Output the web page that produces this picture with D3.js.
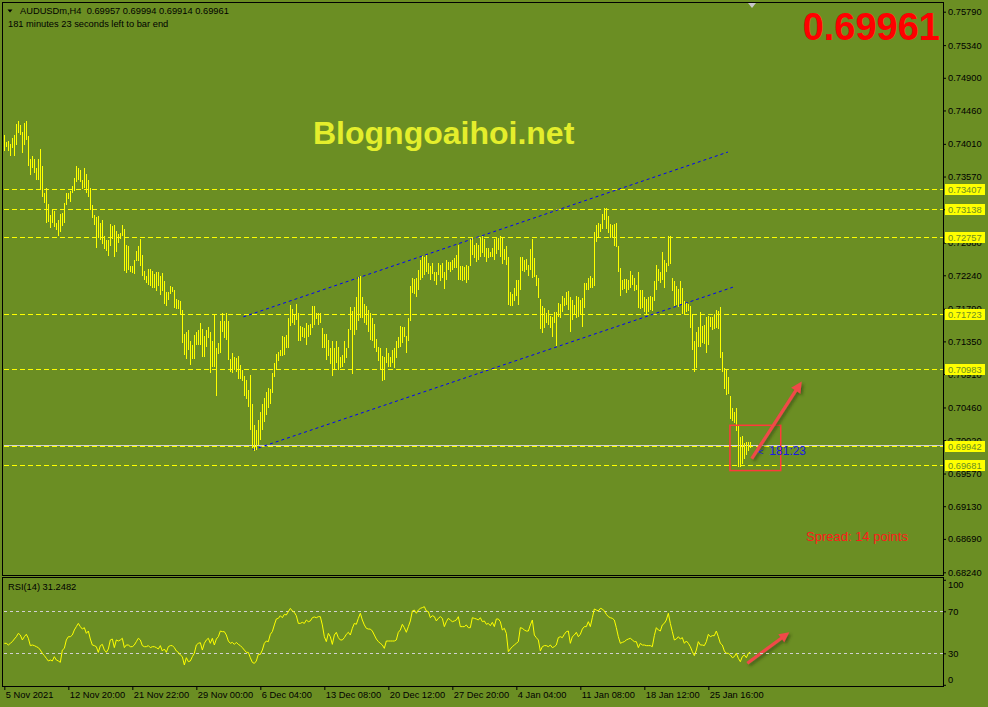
<!DOCTYPE html>
<html><head><meta charset="utf-8">
<script src="https://cdn.jsdelivr.net/npm/d3@7"></script>
<style>
html,body{margin:0;padding:0;background:#6B8E23;}
svg{display:block;}
text{font-family:"Liberation Sans",Arial,sans-serif;}
</style></head><body>
<svg id="chart" width="988" height="707"></svg>
<script>
// ---------- DATA ----------
const symbolTitle = "AUDUSDm,H4  0.69957 0.69994 0.69914 0.69961";
const timerText = "181 minutes 23 seconds left to bar end";
const lastPriceText = "0.69961";
const watermark = "Blogngoaihoi.net";
const spreadText = "Spread: 14 points";
const countdownText = "181:23";
const rsiTitle = "RSI(14) 31.2482";

const highs = [
0.7413,0.7404,0.7405,0.7401,0.7409,0.7413,0.7428,0.7432,0.7427,0.7417,
0.7429,0.7432,0.7412,0.7380,0.7384,0.7380,0.7369,0.7380,0.7394,0.7371,
0.7335,0.7342,0.7320,0.7305,0.7312,0.7310,0.7295,0.7298,0.7307,0.7308,
0.7322,0.7335,0.7335,0.7337,0.7344,0.7355,0.7371,0.7369,0.7366,0.7352,
0.7369,0.7361,0.7352,0.7342,0.7319,0.7305,0.7303,0.7304,0.7295,0.7299,
0.7277,0.7271,0.7272,0.7293,0.7291,0.7292,0.7284,0.7280,0.7281,0.7292,
0.7287,0.7265,0.7263,0.7237,0.7236,0.7244,0.7257,0.7264,0.7273,0.7252,
0.7230,0.7223,0.7233,0.7233,0.7230,0.7226,0.7229,0.7228,0.7223,0.7227,
0.7216,0.7202,0.7201,0.7210,0.7208,0.7204,0.7192,0.7191,0.7190,0.7177,
0.7145,0.7148,0.7150,0.7135,0.7130,0.7144,0.7147,0.7150,0.7160,0.7151,
0.7142,0.7150,0.7154,0.7148,0.7136,0.7171,0.7126,0.7133,0.7162,0.7173,
0.7163,0.7173,0.7162,0.7111,0.7120,0.7114,0.7112,0.7115,0.7103,0.7097,
0.7088,0.7083,0.7069,0.7090,0.7050,0.7022,0.7016,0.7029,0.7040,0.7050,
0.7059,0.7067,0.7072,0.7071,0.7093,0.7106,0.7118,0.7121,0.7123,0.7142,
0.7141,0.7144,0.7166,0.7184,0.7178,0.7171,0.7186,0.7173,0.7156,0.7154,
0.7153,0.7160,0.7157,0.7159,0.7182,0.7183,0.7173,0.7173,0.7173,0.7153,
0.7145,0.7145,0.7137,0.7126,0.7135,0.7126,0.7136,0.7128,0.7114,0.7117,
0.7136,0.7126,0.7151,0.7181,0.7176,0.7181,0.7195,0.7222,0.7223,0.7195,
0.7186,0.7182,0.7177,0.7173,0.7166,0.7159,0.7138,0.7128,0.7126,0.7115,
0.7114,0.7126,0.7119,0.7114,0.7123,0.7126,0.7136,0.7141,0.7156,0.7155,
0.7155,0.7142,0.7166,0.7209,0.7221,0.7219,0.7220,0.7231,0.7245,0.7250,
0.7249,0.7252,0.7240,0.7237,0.7240,0.7229,0.7228,0.7240,0.7238,0.7240,
0.7229,0.7244,0.7242,0.7242,0.7245,0.7247,0.7252,0.7265,0.7236,0.7237,
0.7235,0.7238,0.7236,0.7273,0.7274,0.7265,0.7267,0.7265,0.7276,0.7277,
0.7273,0.7261,0.7261,0.7256,0.7261,0.7273,0.7276,0.7274,0.7277,0.7276,
0.7259,0.7264,0.7248,0.7201,0.7199,0.7207,0.7217,0.7217,0.7249,0.7248,
0.7244,0.7246,0.7238,0.7259,0.7273,0.7247,0.7225,0.7220,0.7192,0.7182,
0.7180,0.7173,0.7177,0.7169,0.7168,0.7174,0.7175,0.7187,0.7186,0.7196,
0.7193,0.7202,0.7203,0.7195,0.7191,0.7184,0.7196,0.7195,0.7191,0.7193,
0.7213,0.7213,0.7220,0.7223,0.7221,0.7282,0.7292,0.7294,0.7293,0.7307,
0.7314,0.7314,0.7304,0.7293,0.7292,0.7293,0.7294,0.7264,0.7234,0.7218,
0.7219,0.7219,0.7218,0.7230,0.7225,0.7220,0.7211,0.7229,0.7204,0.7204,
0.7195,0.7192,0.7195,0.7196,0.7195,0.7216,0.7238,0.7232,0.7228,0.7256,
0.7244,0.7241,0.7277,0.7277,0.7220,0.7216,0.7209,0.7205,0.7216,0.7207,
0.7189,0.7187,0.7186,0.7183,0.7171,0.7135,0.7148,0.7154,0.7175,0.7156,
0.7157,0.7168,0.7169,0.7168,0.7168,0.7172,0.7177,0.7176,0.7181,0.7121,
0.7099,0.7097,0.7087,0.7061,0.7045,0.7040,0.7045,0.7023,0.7006,0.7008,
0.6998,0.6999,0.6999,0.69994
];
const lows = [
0.7392,0.7397,0.7392,0.7385,0.7396,0.7384,0.7400,0.7416,0.7413,0.7389,
0.7400,0.7406,0.7371,0.7359,0.7369,0.7362,0.7352,0.7352,0.7339,0.7330,
0.7322,0.7295,0.7296,0.7288,0.7295,0.7289,0.7285,0.7277,0.7282,0.7290,
0.7295,0.7318,0.7327,0.7323,0.7335,0.7338,0.7349,0.7352,0.7349,0.7340,
0.7342,0.7335,0.7330,0.7312,0.7301,0.7292,0.7261,0.7274,0.7272,0.7266,
0.7260,0.7257,0.7250,0.7264,0.7273,0.7249,0.7255,0.7268,0.7273,0.7277,
0.7230,0.7227,0.7231,0.7228,0.7227,0.7226,0.7243,0.7243,0.7237,0.7223,
0.7218,0.7214,0.7211,0.7209,0.7207,0.7207,0.7203,0.7209,0.7198,0.7203,
0.7186,0.7183,0.7191,0.7199,0.7201,0.7180,0.7178,0.7178,0.7172,0.7133,
0.7117,0.7111,0.7123,0.7103,0.7111,0.7111,0.7130,0.7130,0.7130,0.7114,
0.7114,0.7127,0.7139,0.7092,0.7101,0.7100,0.7062,0.7118,0.7120,0.7147,
0.7139,0.7137,0.7110,0.7094,0.7093,0.7097,0.7094,0.7084,0.7084,0.7082,
0.7062,0.7058,0.7047,0.7016,0.6992,0.6988,0.6989,0.6996,0.7002,0.7016,
0.7027,0.7036,0.7045,0.7051,0.7066,0.7087,0.7097,0.7108,0.7115,0.7115,
0.7117,0.7126,0.7126,0.7156,0.7160,0.7157,0.7164,0.7135,0.7135,0.7141,
0.7139,0.7130,0.7141,0.7144,0.7153,0.7157,0.7165,0.7157,0.7160,0.7126,
0.7126,0.7110,0.7115,0.7105,0.7089,0.7097,0.7106,0.7097,0.7099,0.7101,
0.7106,0.7112,0.7126,0.7150,0.7091,0.7144,0.7150,0.7162,0.7166,0.7166,
0.7160,0.7157,0.7148,0.7137,0.7135,0.7126,0.7121,0.7108,0.7097,0.7081,
0.7083,0.7106,0.7101,0.7101,0.7106,0.7099,0.7112,0.7126,0.7128,0.7133,
0.7141,0.7119,0.7135,0.7162,0.7200,0.7199,0.7195,0.7204,0.7218,0.7221,
0.7225,0.7229,0.7226,0.7218,0.7226,0.7216,0.7211,0.7225,0.7216,0.7221,
0.7205,0.7218,0.7231,0.7229,0.7231,0.7234,0.7234,0.7218,0.7217,0.7216,
0.7217,0.7214,0.7218,0.7237,0.7252,0.7247,0.7242,0.7244,0.7249,0.7254,
0.7249,0.7242,0.7247,0.7249,0.7249,0.7245,0.7253,0.7258,0.7249,0.7239,
0.7245,0.7238,0.7184,0.7183,0.7183,0.7190,0.7196,0.7184,0.7204,0.7230,
0.7229,0.7231,0.7223,0.7231,0.7220,0.7222,0.7209,0.7193,0.7151,0.7146,
0.7153,0.7160,0.7157,0.7153,0.7141,0.7160,0.7129,0.7168,0.7166,0.7175,
0.7182,0.7184,0.7177,0.7148,0.7164,0.7171,0.7166,0.7168,0.7172,0.7154,
0.7180,0.7204,0.7204,0.7207,0.7207,0.7210,0.7269,0.7276,0.7282,0.7286,
0.7298,0.7287,0.7281,0.7274,0.7275,0.7264,0.7262,0.7229,0.7196,0.7204,
0.7205,0.7200,0.7204,0.7207,0.7211,0.7203,0.7204,0.7180,0.7178,0.7180,
0.7175,0.7171,0.7175,0.7177,0.7176,0.7189,0.7204,0.7216,0.7214,0.7218,
0.7207,0.7229,0.7237,0.7239,0.7203,0.7182,0.7184,0.7181,0.7186,0.7172,
0.7171,0.7174,0.7176,0.7153,0.7124,0.7094,0.7099,0.7128,0.7128,0.7133,
0.7132,0.7120,0.7130,0.7154,0.7150,0.7151,0.7153,0.7151,0.7112,0.7094,
0.7071,0.7063,0.7064,0.7030,0.7028,0.7025,0.7014,0.6966,0.6966,0.6970,
0.6976,0.6982,0.6988,0.69914
];
const rsi = [
39.5,39.5,37.9,39.5,41.1,43.6,45.8,49.0,47.4,42.7,
45.8,48.1,44.3,37.3,37.9,37.3,36.3,35.4,33.1,30.0,
27.8,25.2,22.7,23.6,22.7,26.8,23.6,22.7,21.4,33.1,
34.7,42.7,45.8,45.8,47.4,52.2,55.4,58.5,55.4,53.1,
54.4,49.0,51.2,43.6,37.9,37.3,36.3,30.9,37.3,38.5,
33.1,30.9,34.1,42.7,43.6,35.4,42.7,41.7,42.7,44.3,
35.4,37.9,37.9,36.3,36.3,37.9,41.1,44.3,42.7,37.3,
36.3,36.3,37.3,35.4,36.3,36.3,35.4,34.1,37.3,32.2,
34.1,30.9,36.3,37.3,37.3,35.4,32.2,30.9,28.4,26.8,
18.9,25.8,22.0,22.7,26.8,30.0,37.9,39.5,40.1,33.1,
39.5,42.7,44.3,39.5,44.3,37.9,43.6,45.8,51.2,50.6,
50.6,47.4,41.7,39.5,40.4,38.5,40.4,38.5,37.3,35.4,
33.1,30.9,30.9,25.8,21.4,20.4,22.7,29.0,29.0,33.1,
39.5,41.7,41.1,48.1,50.6,57.0,62.7,63.3,65.8,63.9,
67.1,66.5,69.7,72.8,70.3,69.0,65.8,58.5,58.5,59.5,
58.5,61.7,60.1,60.8,63.9,64.6,63.9,64.9,
64.9,57.0,45.8,41.1,49.0,45.8,38.5,47.4,50.0,44.9,
42.7,42.7,44.9,48.1,50.0,47.4,53.8,58.5,57.6,63.3,
68.1,61.7,57.0,53.8,53.1,53.1,51.2,47.4,43.6,41.1,
39.5,37.9,34.7,41.7,41.7,41.7,41.7,41.7,42.7,50.0,
52.2,57.6,54.4,50.0,55.4,60.8,70.3,71.2,68.1,71.2,
72.8,73.5,74.4,70.3,69.7,63.9,65.8,64.9,60.8,63.3,
64.9,63.3,55.4,60.1,63.3,61.7,60.1,60.8,61.7,64.9,
55.4,55.4,55.4,57.0,54.4,54.4,63.9,63.3,62.7,61.7,
63.9,60.1,60.8,57.6,58.5,56.3,59.5,55.4,62.7,62.7,
60.1,52.2,53.8,49.0,31.6,34.1,36.3,37.9,39.5,41.1,
54.4,53.8,52.2,51.2,51.2,57.0,61.7,47.4,44.9,42.7,
32.2,36.3,37.3,37.3,36.3,37.9,35.4,36.3,37.9,44.9,
45.8,44.9,48.1,50.6,51.2,39.5,45.8,47.4,50.0,45.8,
48.1,53.1,55.4,55.4,60.1,55.4,63.9,72.2,71.2,70.3,
72.8,72.2,70.3,67.1,64.9,63.9,63.3,61.7,54.4,45.8,
39.5,40.4,41.1,42.7,43.6,44.3,42.7,41.1,41.1,35.4,
39.5,37.9,37.9,37.3,37.3,
37.3,36.3,46.8,54.4,52.2,51.2,57.0,58.5,61.7,68.1,
58.5,50.6,42.7,43.6,45.8,43.6,44.9,39.5,41.7,39.5,
36.3,31.6,27.8,33.1,41.1,37.9,37.9,37.3,41.1,48.1,
45.8,46.8,46.8,51.2,45.8,39.5,37.9,32.2,30.0,30.0,
28.4,25.8,26.8,30.0,25.2,22.0,26.8,28.4,25.8,30.0,31.2482
];
const timeTickBars = [0,32,64,96,128,160,192,224,256,288,320,352];
const timeLabels = ["5 Nov 2021","12 Nov 20:00","21 Nov 22:00","29 Nov 00:00","6 Dec 04:00","13 Dec 08:00","20 Dec 12:00","27 Dec 20:00","4 Jan 04:00","11 Jan 08:00","18 Jan 12:00","25 Jan 16:00"];
const priceTicks = [0.75790,0.75340,0.74900,0.74460,0.74010,0.73570,0.73130,0.72680,0.72240,0.71790,0.71350,0.70910,0.70460,0.70020,0.69570,0.69130,0.68690,0.68240];
const levelPrices = [0.73407,0.73138,0.72757,0.71723,0.70983,0.69942,0.69681];
const bidPrice = 0.69961;
const rsiLevels = [70,30];
const rsiTicks = [100,70,30,0];
// trend channel anchors: [bar index, price]
const channelUpper = [[119.5,0.7168],[361.8,0.7390]];
const channelLower = [[124.3,0.6989],[364.3,0.7208]];
// annotations: [bar index, value]
const markBox = [[362.8,0.7022],[388.2,0.6961]];
const arrowMain = [[373.7,0.6977],[398.7,0.7081]];
const arrowRsi = [[371.5,20.5],[392.5,50.0]];
const countdownAt = [377.0,0.6988];

// ---------- LAYOUT ----------
const W = 988, H = 707;
const paneL = 3, paneR = 943, mainT = 3, mainB = 575, rsiT = 577, rsiB = 686;
const BG = "#6B8E23";
const svg = d3.select("#chart");
svg.append("rect").attr("width",W).attr("height",H).attr("fill",BG);

const defs = svg.append("defs");
defs.append("clipPath").attr("id","clipMain").append("rect")
  .attr("x",paneL+1).attr("y",mainT+1).attr("width",paneR-paneL-1).attr("height",mainB-mainT-1);
defs.append("clipPath").attr("id","clipRsi").append("rect")
  .attr("x",paneL+1).attr("y",rsiT+1).attr("width",paneR-paneL-1).attr("height",rsiB-rsiT-1);
const sh = defs.append("filter").attr("id","shadow").attr("x","-30%").attr("y","-30%").attr("width","160%").attr("height","160%");
sh.append("feDropShadow").attr("dx",2).attr("dy",2).attr("stdDeviation",1.5).attr("flood-color","#2a3a08").attr("flood-opacity",0.6);

const x = d3.scaleLinear().domain([0,373]).range([4.33,750.33]);
const y = d3.scaleLinear().domain([0.6824,0.7579]).range([572.3,11.7]);
const yR = d3.scaleLinear().domain([0,100]).range([684.8,579.8]);
const px = v => Math.floor(x(v)) + 0.5;

// ---------- MAIN PANE ----------
const gMain = svg.append("g").attr("clip-path","url(#clipMain)");

gMain.selectAll("line.level").data(levelPrices).join("line")
  .attr("x1",paneL+1).attr("x2",paneR)
  .attr("y1",d=>Math.round(y(d))+0.5).attr("y2",d=>Math.round(y(d))+0.5)
  .attr("stroke","#FFFF00").attr("stroke-width",1).attr("stroke-dasharray","5,3");

gMain.append("line").attr("x1",paneL+1).attr("x2",paneR)
  .attr("y1",Math.round(y(bidPrice))+0.5).attr("y2",Math.round(y(bidPrice))+0.5)
  .attr("stroke","#D0D0D0").attr("stroke-width",1);

[channelUpper, channelLower].forEach(c=>{
  gMain.append("line")
    .attr("x1",x(c[0][0])).attr("y1",y(c[0][1]))
    .attr("x2",x(c[1][0])).attr("y2",y(c[1][1]))
    .attr("stroke","#0000FF").attr("stroke-width",1).attr("stroke-dasharray","3,3");
});

gMain.selectAll("line.bar").data(highs).join("line")
  .attr("class","bar")
  .attr("x1",(d,i)=>px(i)).attr("x2",(d,i)=>px(i))
  .attr("y1",(d,i)=>Math.round(y(d)))
  .attr("y2",(d,i)=>Math.max(Math.round(y(lows[i])), Math.round(y(d))+2))
  .attr("stroke","#FFFF00").attr("stroke-width",1).attr("shape-rendering","crispEdges");

svg.append("text").attr("x",313).attr("y",144).text(watermark)
  .attr("font-size",32).attr("font-weight","bold").attr("fill","#E4EE2C");

svg.append("text").attr("x",940).attr("y",40).attr("text-anchor","end").text(lastPriceText)
  .attr("font-size",38).attr("font-weight","bold").attr("fill","#FF0000");

svg.append("text").attr("x",806).attr("y",541).text(spreadText)
  .attr("font-size",13).attr("fill","#FF1A1A");

// red marker box
const annG = svg.append("g");
const bx0 = x(markBox[0][0]), by0 = y(markBox[0][1]);
const bx1 = x(markBox[1][0]), by1 = y(markBox[1][1]);
annG.append("rect")
  .attr("x",bx0).attr("y",by0)
  .attr("width",bx1-bx0).attr("height",by1-by0)
  .attr("fill","none").attr("stroke","#FF3A3A").attr("stroke-width",1.5);

function arrow(g, p0, p1, w, head){
  const dx = p1[0]-p0[0], dy = p1[1]-p0[1], L = Math.hypot(dx,dy);
  const ux = dx/L, uy = dy/L, nx = -uy, ny = ux;
  const bx = p1[0]-ux*head, by = p1[1]-uy*head;
  const path = d3.path();
  path.moveTo(p0[0]+nx*w/2, p0[1]+ny*w/2);
  path.lineTo(bx+nx*w/2, by+ny*w/2);
  path.lineTo(bx+nx*head*0.5, by+ny*head*0.5);
  path.lineTo(p1[0], p1[1]);
  path.lineTo(bx-nx*head*0.5, by-ny*head*0.5);
  path.lineTo(bx-nx*w/2, by-ny*w/2);
  path.lineTo(p0[0]-nx*w/2, p0[1]-ny*w/2);
  path.closePath();
  g.append("path").attr("d",path.toString()).attr("fill","#F04848").attr("filter","url(#shadow)");
}
arrow(annG, [x(arrowMain[0][0]),y(arrowMain[0][1])], [x(arrowMain[1][0]),y(arrowMain[1][1])], 3.2, 11);
arrow(annG, [x(arrowRsi[0][0]),yR(arrowRsi[0][1])], [x(arrowRsi[1][0]),yR(arrowRsi[1][1])], 3.2, 10);

svg.append("text").attr("x",x(countdownAt[0])).attr("y",y(countdownAt[1])+4).text("<")
  .attr("font-size",9).attr("fill","#1A1AE6");
svg.append("text").attr("x",x(countdownAt[0])+11).attr("y",y(countdownAt[1])+4).text(countdownText)
  .attr("font-size",12).attr("fill","#1A1AE6");

svg.append("path").attr("d","M7.5,9.5 L12.5,9.5 L10,12.5 Z").attr("fill","#000");
svg.append("text").attr("x",20).attr("y",14).text(symbolTitle).attr("font-size",9.3).attr("fill","#000").attr("xml:space","preserve");
svg.append("text").attr("x",8).attr("y",27).text(timerText).attr("font-size",9.3).attr("fill","#000");
svg.append("path").attr("d","M748,3 L756,3 L752,8 Z").attr("fill","#C8C8C8");

const yAxis = d3.axisRight(y).tickValues(priceTicks).tickFormat(d3.format(".5f")).tickSize(3).tickPadding(2);
const gAx = svg.append("g").attr("transform",`translate(${paneR},0)`).call(yAxis);
gAx.select(".domain").remove();
gAx.attr("font-family","Liberation Sans, Arial, sans-serif").attr("font-size",9.3);
gAx.selectAll("line").attr("stroke","#000");
gAx.selectAll("text").attr("fill","#000");

const lab = svg.append("g");
levelPrices.forEach(p=>{
  const yy = Math.round(y(p));
  lab.append("rect").attr("x",945).attr("y",yy-5).attr("width",40).attr("height",11).attr("fill","#FFFF00");
  lab.append("text").attr("x",948).attr("y",yy+3.5).text(d3.format(".5f")(p))
    .attr("font-size",9.3).attr("fill",BG);
});

// ---------- RSI PANE ----------
const gR = svg.append("g").attr("clip-path","url(#clipRsi)");
gR.selectAll("line.rl").data(rsiLevels).join("line")
  .attr("x1",paneL+1).attr("x2",paneR)
  .attr("y1",d=>Math.round(yR(d))+0.5).attr("y2",d=>Math.round(yR(d))+0.5)
  .attr("stroke","#D0D0D0").attr("stroke-dasharray","3,3");
gR.append("path").datum(rsi)
  .attr("d",d3.line().x((d,i)=>x(i)).y(d=>yR(d)))
  .attr("fill","none").attr("stroke","#FFFF00").attr("stroke-width",1);

svg.append("text").attr("x",8).attr("y",590).text(rsiTitle).attr("font-size",9.3).attr("fill","#000");

const rAxis = d3.axisRight(yR).tickValues(rsiTicks).tickFormat(d3.format("d")).tickSize(3).tickPadding(2);
const gRA = svg.append("g").attr("transform",`translate(${paneR},0)`).call(rAxis);
gRA.select(".domain").remove();
gRA.attr("font-family","Liberation Sans, Arial, sans-serif").attr("font-size",9.3);
gRA.selectAll("line").attr("stroke","#000");
gRA.selectAll("text").attr("fill","#000")
  .attr("y",d=> d===100 ? 5 : (d===0 ? -5 : 0));

// ---------- TIME AXIS ----------
const xAxis = d3.axisBottom(x).tickValues(timeTickBars).tickFormat((d,i)=>timeLabels[i]).tickSize(4).tickPadding(1);
const gX = svg.append("g").attr("transform",`translate(0,${rsiB})`).call(xAxis);
gX.select(".domain").remove();
gX.attr("font-family","Liberation Sans, Arial, sans-serif").attr("font-size",9.3);
gX.selectAll("line").attr("stroke","#000");
gX.selectAll("text").attr("fill","#000").attr("text-anchor","start").attr("x",1);

// ---------- FRAMES ----------
const fr = svg.append("g").attr("fill","none").attr("stroke","#000").attr("stroke-width",1).attr("shape-rendering","crispEdges");
fr.append("rect").attr("x",paneL-0.5).attr("y",mainT-0.5).attr("width",paneR-paneL+1).attr("height",mainB-mainT+1);
fr.append("rect").attr("x",paneL-0.5).attr("y",rsiT+0.5).attr("width",paneR-paneL+1).attr("height",rsiB-rsiT);
</script>
</body></html>
